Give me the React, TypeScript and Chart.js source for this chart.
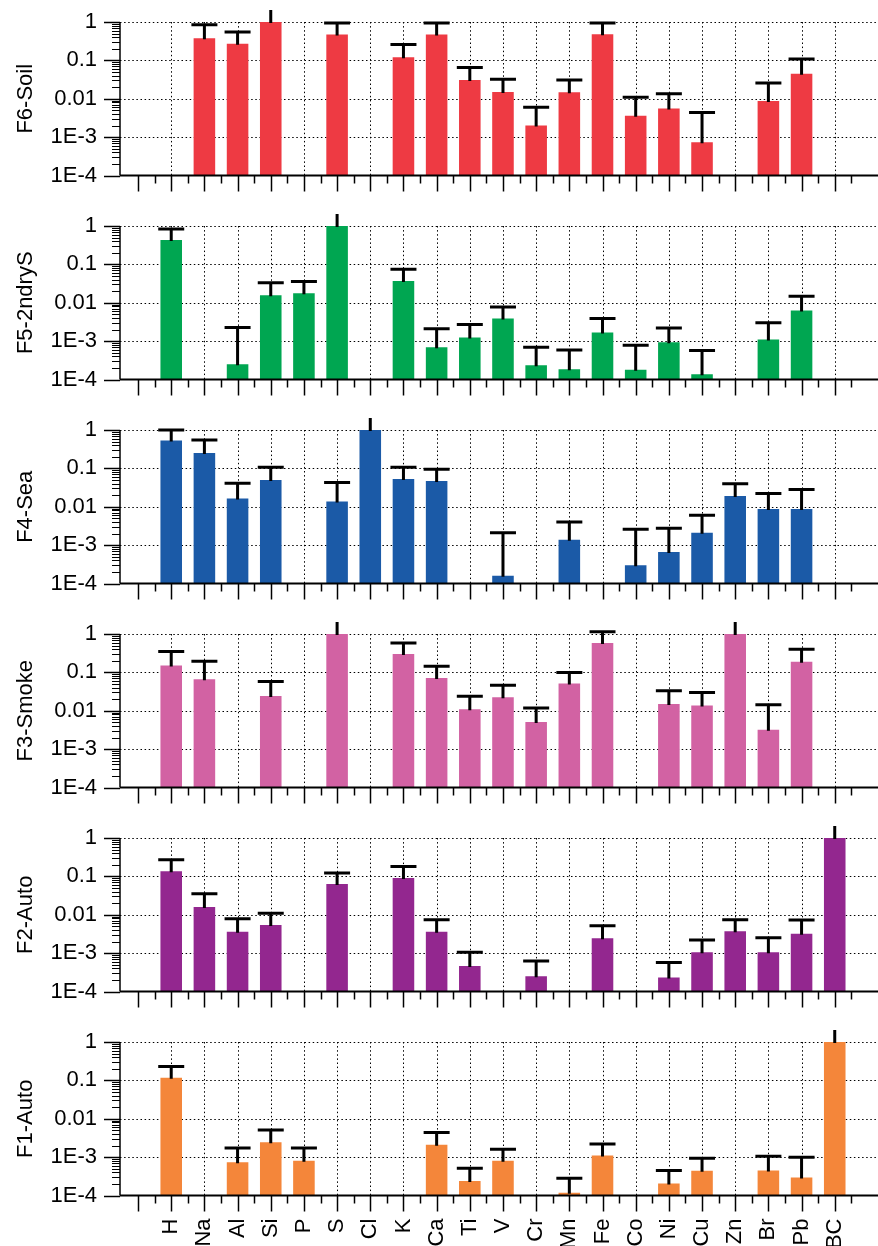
import React, { useEffect, useRef } from 'react';
import { Chart, registerables } from 'chart.js';

Chart.register(...registerables);

const categories = ['H', 'Na', 'Al', 'Si', 'P', 'S', 'Cl', 'K', 'Ca', 'Ti', 'V', 'Cr', 'Mn', 'Fe', 'Co', 'Ni', 'Cu', 'Zn', 'Br', 'Pb', 'BC'];

const yTickValues = [1e-4, 1e-3, 1e-2, 1e-1, 1];
const yTickLabels = ['1E-4', '1E-3', '0.01', '0.1', '1'];

// F6-Soil
const soilValues = [null, 0.38, 0.27, 1.0, null, 0.47, null, 0.12, 0.47, 0.031, 0.015, 0.002, 0.0148, 0.48, 0.0036, 0.0056, 0.00074, null, 0.0088, 0.045, null];
const soilUpper = [null, 0.85, 0.55, 3.0, null, 0.94, null, 0.26, 0.94, 0.065, 0.032, 0.006, 0.031, 0.94, 0.011, 0.0134, 0.0044, null, 0.0256, 0.108, null];

// F5-2ndryS
const sulfValues = [0.43, null, 0.00025, 0.0157, 0.0177, 1.0, null, 0.037, 0.00069, 0.00124, 0.0039, 0.000235, 0.000185, 0.00167, 0.00018, 0.00093, 0.000138, null, 0.0011, 0.0063, null];
const sulfUpper = [0.84, null, 0.00225, 0.033, 0.036, 3.0, null, 0.075, 0.0021, 0.0027, 0.0078, 0.00069, 0.00059, 0.0039, 0.00078, 0.0022, 0.00057, null, 0.003, 0.0147, null];

// F4-Sea
const seaValues = [0.53, 0.25, 0.0165, 0.05, null, 0.0138, 1.0, 0.053, 0.047, null, 0.00016, null, 0.00139, null, 0.0003, 0.00066, 0.0021, 0.019, 0.0087, 0.0087, null];
const seaUpper = [1.0, 0.55, 0.041, 0.107, null, 0.043, 3.0, 0.107, 0.095, null, 0.0021, null, 0.004, null, 0.0026, 0.00275, 0.006, 0.04, 0.022, 0.028, null];

// F3-Smoke
const smokeValues = [0.152, 0.066, null, 0.0244, null, 1.0, null, 0.3, 0.071, 0.011, 0.0224, 0.0051, 0.051, 0.58, null, 0.015, 0.0138, 1.0, 0.0032, 0.19, null];
const smokeUpper = [0.35, 0.194, null, 0.058, null, 3.0, null, 0.58, 0.144, 0.0237, 0.046, 0.0118, 0.1, 1.15, null, 0.033, 0.03, 3.0, 0.0144, 0.4, null];

// F2-Auto
const auto2Values = [0.135, 0.016, 0.0036, 0.0054, null, 0.063, null, 0.091, 0.0036, 0.00046, null, 0.00025, null, 0.00245, null, 0.00023, 0.00106, 0.0037, 0.00106, 0.0032, 1.0];
const auto2Upper = [0.27, 0.035, 0.0079, 0.011, null, 0.123, null, 0.18, 0.0074, 0.00105, null, 0.00062, null, 0.0052, null, 0.00057, 0.0022, 0.0074, 0.0025, 0.0073, 3.0];

// F1-Auto
const auto1Values = [0.117, null, 0.00073, 0.00244, 0.0008, null, null, null, 0.0021, 0.00024, 0.0008, null, 0.000118, 0.0011, null, 0.000205, 0.00044, null, 0.00045, 0.000295, 1.0];
const auto1Upper = [0.23, null, 0.00174, 0.0051, 0.00174, null, null, null, 0.0044, 0.00051, 0.0016, null, 0.00028, 0.0022, null, 0.00045, 0.00093, null, 0.00105, 0.001, 3.0];

const panelTitles = ['F6-Soil', 'F5-2ndryS', 'F4-Sea', 'F3-Smoke', 'F2-Auto', 'F1-Auto'];
const panelValues = [soilValues, sulfValues, seaValues, smokeValues, auto2Values, auto1Values];
const panelUppers = [soilUpper, sulfUpper, seaUpper, smokeUpper, auto2Upper, auto1Upper];
const panelColors = ['#EE3A43', '#00A651', '#1B5AA7', '#D262A3', '#93278F', '#F4863A'];

const FONT = "'Liberation Sans', Arial, Helvetica, sans-serif";
const FONT_SIZE = 22;
const PAD_TOP = 20;
const PLOT_H = 153.5;
const panelPlotTops = [22, 226, 430, 634, 838, 1042];

function Panel({ idx }: { idx: number }) {
  const ref = useRef<HTMLCanvasElement>(null);
  const isLast = idx === panelTitles.length - 1;
  const canvasTop = panelPlotTops[idx] - PAD_TOP;
  const canvasH = isLast ? 1246 - canvasTop : 200;
  const bottomH = canvasH - PAD_TOP - PLOT_H;

  useEffect(() => {
    const values = panelValues[idx];
    const upper = panelUppers[idx];
    const plugin = {
      id: 'axesAndErrors',
      beforeDatasetsDraw(chart: any) {
        const { ctx, chartArea } = chart;
        const xs = chart.scales.x;
        const ys = chart.scales.y;
        ctx.save();
        ctx.strokeStyle = '#000';
        ctx.lineWidth = 1;
        ctx.setLineDash([1.5, 2.6]);
        yTickValues.slice(1).forEach((v) => {
          const y = Math.round(ys.getPixelForValue(v)) + 0.5;
          ctx.beginPath();
          ctx.moveTo(chartArea.left, y);
          ctx.lineTo(chartArea.right, y);
          ctx.stroke();
        });
        categories.forEach((_, i) => {
          const x = Math.round(xs.getPixelForValue(i)) + 0.5;
          ctx.beginPath();
          ctx.moveTo(x, chartArea.top);
          ctx.lineTo(x, chartArea.bottom);
          ctx.stroke();
        });
        ctx.restore();
      },
      afterDatasetsDraw(chart: any) {
        const { ctx, chartArea } = chart;
        const xs = chart.scales.x;
        const ys = chart.scales.y;
        const meta = chart.getDatasetMeta(0);
        // error bars
        ctx.save();
        ctx.beginPath();
        ctx.rect(chartArea.left, chartArea.top - 12, chartArea.right - chartArea.left, chartArea.bottom - chartArea.top + 12);
        ctx.clip();
        ctx.strokeStyle = '#000';
        ctx.lineWidth = 3;
        ctx.lineCap = 'butt';
        values.forEach((v, i) => {
          const u = upper[i];
          if (v == null || u == null) return;
          const el = meta.data[i];
          const x = el.x;
          const y0 = ys.getPixelForValue(v);
          const y1 = ys.getPixelForValue(u);
          ctx.beginPath();
          ctx.moveTo(x, y0 + 1);
          ctx.lineTo(x, y1);
          ctx.stroke();
          ctx.beginPath();
          ctx.moveTo(x - 13, y1);
          ctx.lineTo(x + 13, y1);
          ctx.stroke();
        });
        ctx.restore();

        // axes
        ctx.save();
        ctx.strokeStyle = '#000';
        const left = chartArea.left;
        const bottom = chartArea.bottom;
        ctx.lineWidth = 1.5;
        ctx.beginPath();
        ctx.moveTo(left, chartArea.top);
        ctx.lineTo(left, bottom);
        ctx.stroke();
        yTickValues.forEach((v) => {
          const y = Math.round(ys.getPixelForValue(v)) + 0.5;
          ctx.lineWidth = 1.5;
          ctx.beginPath();
          ctx.moveTo(left - 16, y);
          ctx.lineTo(left, y);
          ctx.stroke();
        });
        ctx.lineWidth = 1;
        for (let d = -4; d < 0; d++) {
          for (let m = 2; m <= 9; m++) {
            const y = Math.round(ys.getPixelForValue(m * Math.pow(10, d))) + 0.5;
            ctx.beginPath();
            ctx.moveTo(left - 8, y);
            ctx.lineTo(left, y);
            ctx.stroke();
          }
        }
        ctx.lineWidth = 2;
        ctx.beginPath();
        ctx.moveTo(left, bottom);
        ctx.lineTo(chartArea.right, bottom);
        ctx.stroke();
        ctx.lineWidth = 1.5;
        for (let i = -1; i <= categories.length - 1; i++) {
          const x = Math.round(xs.getPixelForValue(i)) + 0.5;
          ctx.beginPath();
          ctx.moveTo(x, bottom);
          ctx.lineTo(x, bottom + 16);
          ctx.stroke();
          const xm = Math.round(xs.getPixelForValue(i + 0.5)) + 0.5;
          if (xm <= chartArea.right) {
            ctx.beginPath();
            ctx.moveTo(xm, bottom);
            ctx.lineTo(xm, bottom + 8);
            ctx.stroke();
          }
        }
        ctx.restore();
      },
    };

    const chart = new Chart(ref.current as HTMLCanvasElement, {
      type: 'bar',
      data: {
        datasets: [
          {
            data: values.map((v, i) => ({ x: i, y: v })) as any,
            backgroundColor: panelColors[idx],
            borderWidth: 0,
            categoryPercentage: 1,
            barPercentage: 0.65,
          },
        ],
      },
      options: {
        animation: false,
        responsive: false,
        devicePixelRatio: 1,
        layout: { padding: { top: PAD_TOP, left: 0, right: 0, bottom: 0 } },
        plugins: { legend: { display: false }, tooltip: { enabled: false } },
        scales: {
          x: {
            type: 'linear',
            min: -1,
            max: 20.76,
            grid: { display: false, drawTicks: false, tickLength: 0 },
            border: { display: false },
            afterBuildTicks: (s: any) => {
              s.ticks = categories.map((_, i) => ({ value: i }));
            },
            afterFit: (s: any) => {
              s.height = bottomH;
              s.paddingLeft = 0;
              s.paddingRight = 0;
              s.paddingTop = 0;
              s.paddingBottom = 0;
            },
            ticks: {
              display: isLast,
              autoSkip: false,
              minRotation: 90,
              maxRotation: 90,
              padding: 23,
              color: '#000',
              font: { family: FONT, size: FONT_SIZE },
              callback: (v: any) => categories[v] ?? '',
            },
          },
          y: {
            type: 'logarithmic',
            min: 1e-4,
            max: 1,
            grid: { display: false, drawTicks: false, tickLength: 0 },
            border: { display: false },
            afterBuildTicks: (s: any) => {
              s.ticks = yTickValues.map((v) => ({ value: v }));
            },
            afterFit: (s: any) => {
              s.width = 120;
              s.paddingTop = 0;
              s.paddingBottom = 0;
              s.paddingLeft = 0;
              s.paddingRight = 0;
            },
            ticks: {
              padding: 23,
              color: '#000',
              font: { family: FONT, size: FONT_SIZE },
              callback: (v: any) => {
                const k = yTickValues.findIndex((t) => Math.abs(t - v) / t < 1e-6);
                return k >= 0 ? yTickLabels[k] : '';
              },
            },
            title: {
              display: true,
              text: panelTitles[idx],
              color: '#000',
              font: { family: FONT, size: FONT_SIZE },
              padding: { top: 13, bottom: 0 },
            },
          },
        },
      } as any,
      plugins: [plugin],
    });
    return () => chart.destroy();
  }, []);

  return (
    <canvas
      ref={ref}
      width={878}
      height={canvasH}
      style={{ position: 'absolute', left: 0, top: canvasTop, width: 878, height: canvasH, display: 'block' }}
    />
  );
}

export default function App() {
  return (
    <div style={{ position: 'absolute', left: 0, top: 0, width: 878, height: 1246, background: '#fff', overflow: 'hidden' }}>
      {panelTitles.map((_, i) => (
        <Panel key={i} idx={i} />
      ))}
    </div>
  );
}
